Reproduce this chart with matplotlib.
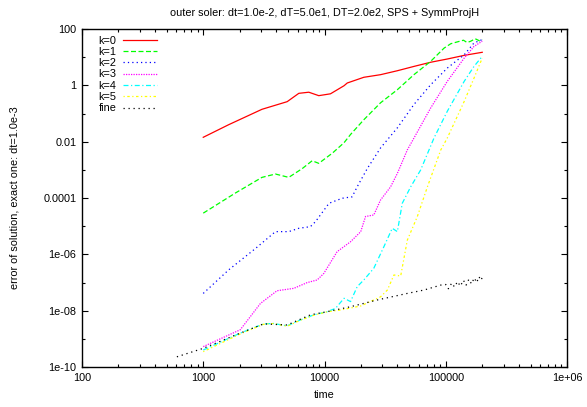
import numpy as np
import matplotlib
matplotlib.use("Agg")
import matplotlib.pyplot as plt
from matplotlib.ticker import LogLocator, NullFormatter, FixedLocator

plt.rcParams['font.family'] = ['Liberation Sans', 'DejaVu Sans']

title = 'outer soler: dt=1.0e-2, dT=5.0e1, DT=2.0e2, SPS + SymmProjH'

# k=0
t0 = [1000, 1620, 3050, 4920, 6140, 7420, 8970, 11200, 14500, 15400,
      21100, 29000, 39900, 54700, 75100, 103000, 142000, 200000]
e0 = [0.0143, 0.04, 0.141, 0.263, 0.52, 0.57, 0.43, 0.50, 0.97, 1.21,
      1.93, 2.39, 3.3, 4.7, 6.6, 8.6, 11.6, 14.9]

# k=1
t1 = [1000, 1840, 3050, 3940, 5070, 6540, 7910, 8970, 11600, 14500, 16400,
      21100, 29000, 39900, 54700, 75100, 96900, 110000, 125000, 140000,
      150000, 161000, 175000, 190000, 200000]
e1 = [2.9e-5, 1.5e-4, 5.4e-4, 7.1e-4, 5.4e-4, 1.1e-3, 2.1e-3, 1.7e-3, 3.9e-3,
      9.2e-3, 0.018, 0.060, 0.24, 0.70, 2.4, 7.1, 21, 30, 35, 40,
      33, 37, 45, 38, 42]

# k=2
t2 = [1000, 1620, 2690, 3940, 5070, 6140, 7650, 8430, 10900, 14000, 16900,
      18600, 22500, 29000, 39900, 54700, 75100, 103000, 142000, 171000, 200000]
e2 = [4.1e-8, 2.8e-7, 1.6e-6, 6.4e-6, 6.4e-6, 8.4e-6, 9.6e-6, 1.45e-5, 6.5e-5,
      9.8e-5, 1.1e-4, 2.5e-4, 1.1e-3, 6.0e-3, 0.031, 0.21, 1.05, 4.1, 12.2,
      32, 42]

# k=3
t3 = [1000, 2020, 2960, 4060, 5580, 7190, 8700, 9870, 12700, 16400, 19900,
      21800, 25500, 29000, 35100, 39900, 48200, 54700, 75100, 103000, 142000,
      171000, 200000]
e3 = [5.3e-10, 2.1e-9, 1.8e-8, 5.1e-8, 6.2e-8, 9.9e-8, 1.23e-7, 2.1e-7,
      1.24e-6, 2.8e-6, 6.4e-6, 2.2e-5, 2.5e-5, 8.5e-5, 2.5e-4, 7.5e-4, 5.1e-3,
      0.0135, 0.157, 1.39, 9.3, 24, 37]

# k=4
t4 = [1000, 2020, 3150, 3800, 4920, 6340, 8170, 10500, 12300, 14500, 16400,
      18600, 21100, 25500, 30900, 36200, 39900, 43800, 51400, 62100, 72800,
      80000, 103000, 142000, 171000, 200000]
e4 = [4.0e-10, 1.6e-9, 3.4e-9, 3.5e-9, 2.9e-9, 4.7e-9, 7.1e-9, 9.2e-9, 1.2e-8,
      2.75e-8, 2.1e-8, 7.1e-8, 1.23e-7, 3.2e-7, 1.87e-6, 8.4e-6, 6.4e-6,
      6.5e-5, 2.5e-4, 9.9e-4, 5.1e-3, 0.0135, 0.12, 1.39, 4.7, 10.7]

# k=5
t5 = [1000, 2020, 3150, 3800, 4920, 6340, 8170, 10500, 13600, 19900, 29000,
      33000, 37400, 42500, 48200, 58300, 70600, 91000, 103000, 142000, 171000,
      200000]
e5 = [3.5e-10, 1.5e-9, 3.3e-9, 3.5e-9, 2.8e-9, 4.6e-9, 6.9e-9, 9.1e-9,
      1.06e-8, 1.47e-8, 3.1e-8, 5.4e-8, 1.85e-7, 1.7e-7, 3.2e-6, 2.2e-5,
      2.5e-4, 5.1e-3, 0.0135, 0.27, 1.8, 9.3]

# fine
tf = [606, 1000, 2020, 3150, 4920, 7650, 10500, 16400, 27300, 48200, 66200,
      91000, 100000, 105000, 112000, 118000, 125000, 132000, 140000, 147000,
      155000, 163000, 172000, 180000, 188000, 195000, 200000]
ef = [2.3e-10, 4.6e-10, 1.6e-9, 3.4e-9, 3.1e-9, 7.1e-9, 9.2e-9, 1.38e-8,
      2.4e-8, 4.1e-8, 5.4e-8, 8.1e-8, 8.5e-8, 6e-8, 9.5e-8, 7e-8, 1.07e-7,
      7.5e-8, 1.2e-7, 8e-8, 1.3e-7, 9e-8, 1.45e-7, 1.0e-7, 1.6e-7, 1.2e-7,
      1.5e-7]

series = [
    ('k=0', t0, e0, '#ff0000', (None, None)),
    ('k=1', t1, e1, '#00ff00', (4, 2)),
    ('k=2', t2, e2, '#0000ff', (1, 2.5)),
    ('k=3', t3, e3, '#ff00ff', (1, 1)),
    ('k=4', t4, e4, '#00ffff', (4, 2, 1, 2)),
    ('k=5', t5, e5, '#ffff00', (1, 2, 2, 2)),
    ('fine', tf, ef, '#000000', (1, 3)),
]

fs = 7.8

fig = plt.figure(figsize=(5.87, 4.07), dpi=100)
ax = fig.add_axes([82 / 587, 1 - 367 / 407, 485 / 587, 338 / 407])

for name, t, e, c, d in series:
    line, = ax.plot(t, e, color=c, lw=0.9, label=name)
    if d[0] is not None:
        line.set_dashes(d)

ax.set_xscale('log')
ax.set_yscale('log')
ax.set_xlim(100, 1e6)
ax.set_ylim(1e-10, 100)

ax.xaxis.set_major_locator(FixedLocator([1e2, 1e3, 1e4, 1e5, 1e6]))
ax.set_xticklabels(['100', '1000', '10000', '100000', '1e+06'])
ax.xaxis.set_minor_locator(LogLocator(base=10, subs=np.arange(2, 10)))
ax.xaxis.set_minor_formatter(NullFormatter())

yt = [1e-10, 1e-8, 1e-6, 1e-4, 1e-2, 1, 100]
ax.yaxis.set_major_locator(FixedLocator(yt))
ax.set_yticklabels(['1e-10', '1e-08', '1e-06', '0.0001', '0.01', '1', '100'])
ax.yaxis.set_minor_locator(FixedLocator([1e-9, 1e-7, 1e-5, 1e-3, 1e-1, 10]))
ax.yaxis.set_minor_formatter(NullFormatter())

ax.tick_params(which='both', direction='in', top=True, right=True,
               labelsize=fs, width=0.8, pad=4)
ax.tick_params(which='major', length=4.5)
ax.tick_params(which='minor', length=2.2)
for s in ax.spines.values():
    s.set_linewidth(1.0)

ax.set_title(title, fontsize=fs, pad=9)
ax.set_xlabel('time', fontsize=fs)
ax.set_ylabel('error of solution, exact one: dt=1.0e-3', fontsize=fs)
ax.xaxis.set_label_coords(0.5, -0.068)
ax.yaxis.set_label_coords(-0.128, 0.5)

ax.legend(loc='upper left', frameon=False, markerfirst=False, fontsize=fs,
          handlelength=3.2, handletextpad=0.6, labelspacing=0.12,
          borderaxespad=0.2, bbox_to_anchor=(0.02, 1.0))

fig.savefig('out.png', dpi=100)
